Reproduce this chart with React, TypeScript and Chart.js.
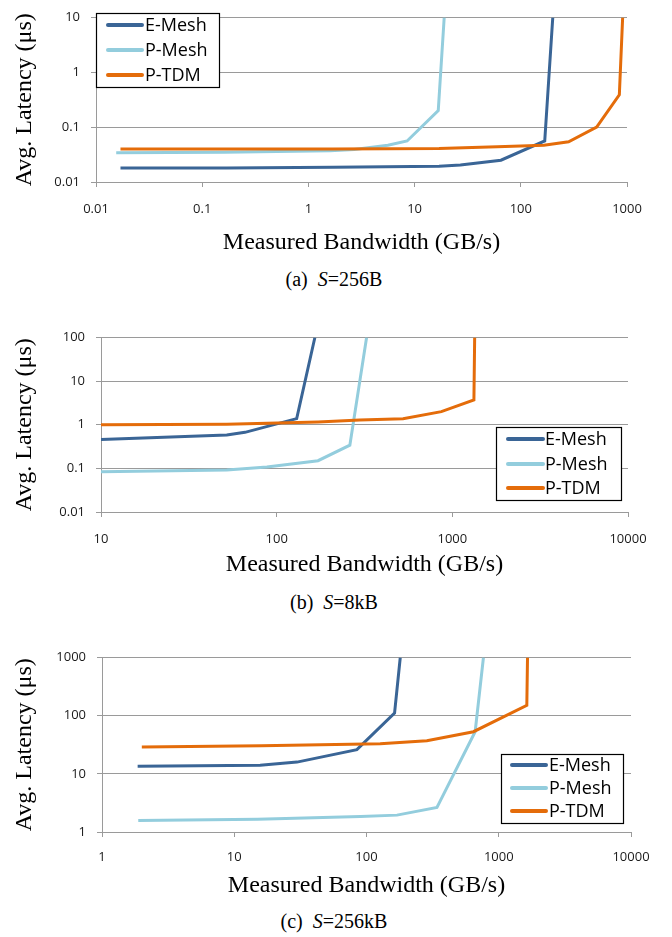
import React, { useEffect, useRef } from 'react';
import { Chart, registerables } from 'chart.js';

Chart.register(...registerables);

const seriesNames = ['E-Mesh', 'P-Mesh', 'P-TDM'];
const seriesColors = ['#3A6596', '#93CDDD', '#E46C0A'];
const xTitle = 'Measured Bandwidth (GB/s)';
const yTitle = 'Avg. Latency (μs)';

// (a) S=256B
const aXTicks = [0.01, 0.1, 1, 10, 100, 1000];
const aYTicks = [0.01, 0.1, 1, 10];
const aEMeshX = [0.017, 0.17, 1.7, 17, 27, 65, 168, 200];
const aEMeshY = [0.018, 0.018, 0.0185, 0.0194, 0.0205, 0.025, 0.056, 10];
const aPMeshX = [0.0155, 0.16, 1.6, 2.7, 5.6, 8.5, 16.7, 19];
const aPMeshY = [0.034, 0.035, 0.037, 0.039, 0.047, 0.056, 0.2, 10];
const aPTdmX = [0.017, 0.17, 1.7, 17, 60, 165, 282, 518, 847, 910];
const aPTdmY = [0.04, 0.04, 0.04, 0.041, 0.044, 0.047, 0.054, 0.1, 0.39, 10];

// (b) S=8kB
const bXTicks = [10, 100, 1000, 10000];
const bYTicks = [0.01, 0.1, 1, 10, 100];
const bEMeshX = [10, 52, 66, 130, 165];
const bEMeshY = [0.46, 0.58, 0.67, 1.38, 100];
const bPMeshX = [10, 52, 88, 172, 261, 325];
const bPMeshY = [0.084, 0.092, 0.107, 0.15, 0.34, 100];
const bPTdmX = [10, 52, 172, 297, 524, 866, 1327, 1340];
const bPTdmY = [1.0, 1.03, 1.16, 1.28, 1.38, 2.0, 3.7, 100];

// (c) S=256kB
const cXTicks = [1, 10, 100, 1000, 10000];
const cYTicks = [1, 10, 100, 1000];
const cEMeshX = [1.86, 15.7, 29.8, 84.6, 163, 180];
const cEMeshY = [13.5, 14, 15.9, 26, 111, 1000];
const cPMeshX = [1.88, 15, 90, 170, 341, 663, 766];
const cPMeshY = [1.57, 1.65, 1.85, 1.95, 2.64, 53, 1000];
const cPTdmX = [2.0, 16, 127, 286, 644, 1630, 1650];
const cPTdmY = [28.9, 30.5, 33, 37, 53, 150, 1000];

type Legend = { x: number; y: number; w: number; h: number; rows: number[]; l0: number; l1: number; tx: number };

const boxLegend = {
  id: 'boxLegend',
  afterDraw(chart: any, _args: any, opts: any) {
    const lg: Legend = opts.box;
    if (!lg) return;
    const ctx = chart.ctx;
    ctx.save();
    ctx.fillStyle = '#ffffff';
    ctx.fillRect(lg.x, lg.y, lg.w, lg.h);
    ctx.strokeStyle = '#000000';
    ctx.lineWidth = 1.2;
    ctx.strokeRect(Math.round(lg.x) + 0.5, Math.round(lg.y) + 0.5, Math.round(lg.w), Math.round(lg.h));
    chart.data.datasets.forEach((ds: any, i: number) => {
      const ry = lg.rows[i];
      ctx.strokeStyle = ds.borderColor;
      ctx.lineWidth = 4;
      ctx.lineCap = 'round';
      ctx.beginPath();
      ctx.moveTo(lg.l0, ry);
      ctx.lineTo(lg.l1, ry);
      ctx.stroke();
      ctx.fillStyle = '#000000';
      ctx.font = '18px "Open Sans"';
      ctx.textBaseline = 'middle';
      ctx.textAlign = 'left';
      ctx.fillText(ds.label, lg.tx, ry + 1);
    });
    ctx.restore();
  },
};

type PanelProps = {
  top: number;
  height: number;
  area: { left: number; right: number; top: number; bottom: number };
  xTicks: number[];
  yTicks: number[];
  xs: number[][];
  ys: number[][];
  legend: Legend;
  xTickPad: number;
  xTitlePad: number;
};

function Panel(p: PanelProps) {
  const ref = useRef<HTMLCanvasElement | null>(null);
  useEffect(() => {
    if (!ref.current) return;
    const W = 672;
    const datasets = seriesNames.map((name, i) => ({
      label: name,
      data: p.xs[i].map((x, j) => ({ x, y: p.ys[i][j] })),
      borderColor: seriesColors[i],
      backgroundColor: seriesColors[i],
      borderWidth: 3,
      pointRadius: 0,
      tension: 0,
      fill: false,
      order: 3 - i,
    }));
    const chart = new Chart(ref.current, {
      type: 'line',
      data: { datasets },
      plugins: [boxLegend],
      options: {
        animation: false,
        responsive: false,
        layout: {
          padding: { left: 0, top: p.area.top - p.top, right: W - p.area.right, bottom: 0 },
        },
        plugins: {
          legend: { display: false },
          tooltip: { enabled: false },
          boxLegend: { box: p.legend },
        } as any,
        scales: {
          x: {
            type: 'logarithmic',
            min: p.xTicks[0],
            max: p.xTicks[p.xTicks.length - 1],
            afterBuildTicks: (s: any) => {
              s.ticks = p.xTicks.map((v) => ({ value: v }));
            },
            afterFit: (s: any) => {
              s.height = p.top + p.height - p.area.bottom;
            },
            ticks: {
              autoSkip: false,
              maxRotation: 0,
              padding: p.xTickPad,
              color: '#1a1a1a',
              font: { family: '"Open Sans"', size: 13, lineHeight: 1 },
              callback: (v: any) => String(v),
            },
            grid: {
              drawOnChartArea: false,
              drawTicks: true,
              tickLength: 5,
              color: '#9a9a9a',
              lineWidth: 1,
            },
            border: { display: true, color: '#9a9a9a', width: 1 },
            title: {
              display: true,
              text: xTitle,
              color: '#000',
              font: { family: '"Liberation Serif"', size: 24, lineHeight: 1.2 },
              padding: { top: 0, bottom: p.xTitlePad },
            },
          },
          y: {
            type: 'logarithmic',
            min: p.yTicks[0],
            max: p.yTicks[p.yTicks.length - 1],
            afterBuildTicks: (s: any) => {
              s.ticks = p.yTicks.map((v) => ({ value: v }));
            },
            afterFit: (s: any) => {
              s.width = p.area.left;
            },
            ticks: {
              autoSkip: false,
              padding: 11,
              color: '#1a1a1a',
              font: { family: '"Open Sans"', size: 13, lineHeight: 1 },
              callback: (v: any) => String(v),
            },
            grid: {
              drawOnChartArea: true,
              drawTicks: true,
              tickLength: 5,
              color: '#9a9a9a',
              lineWidth: 1,
            },
            border: { display: true, color: '#9a9a9a', width: 1 },
            title: {
              display: true,
              text: yTitle,
              color: '#000',
              font: { family: '"Liberation Serif"', size: 24, lineHeight: 1.2 },
              padding: { top: 10, bottom: 0 },
            },
          },
        },
      } as any,
    });
    return () => chart.destroy();
  }, []);
  return (
    <canvas
      ref={ref}
      width={672}
      height={p.height}
      style={{ position: 'absolute', left: 0, top: p.top, width: 672, height: p.height, display: 'block' }}
    />
  );
}

function Caption({ y, label, size }: { y: number; label: string; size: string }) {
  return (
    <div
      style={{
        position: 'absolute',
        left: 0,
        width: 668,
        top: y - 12,
        height: 24,
        lineHeight: '24px',
        textAlign: 'center',
        fontFamily: '"Liberation Serif", serif',
        fontSize: 20,
        color: '#000',
        whiteSpace: 'pre',
      }}
    >
      {label + '  '}
      <i>S</i>
      {'=' + size}
    </div>
  );
}

export default function App() {
  return (
    <div style={{ position: 'absolute', left: 0, top: 0, width: 672, height: 937, background: '#fff', overflow: 'hidden' }}>
      <Panel
        top={0}
        height={262}
        area={{ left: 96, right: 627, top: 7, bottom: 182 }}
        xTicks={aXTicks}
        yTicks={aYTicks}
        xs={[aEMeshX, aPMeshX, aPTdmX]}
        ys={[aEMeshY, aPMeshY, aPTdmY]}
        legend={{ x: 96, y: 13, w: 123, h: 74, rows: [25, 50, 75], l0: 108, l1: 142, tx: 145 }}
        xTickPad={16}
        xTitlePad={5}
      />
      <Caption y={279} label="(a)" size="256B" />
      <Panel
        top={320}
        height={262}
        area={{ left: 101, right: 628, top: 332, bottom: 512 }}
        xTicks={bXTicks}
        yTicks={bYTicks}
        xs={[bEMeshX, bPMeshX, bPTdmX]}
        ys={[bEMeshY, bPMeshY, bPTdmY]}
        legend={{ x: 496, y: 107, w: 125, h: 73, rows: [119, 144, 168], l0: 508, l1: 543, tx: 545 }}
        xTickPad={16}
        xTitlePad={3}
      />
      <Caption y={602} label="(b)" size="8kB" />
      <Panel
        top={640}
        height={265}
        area={{ left: 102, right: 631, top: 654, bottom: 832 }}
        xTicks={cXTicks}
        yTicks={cYTicks}
        xs={[cEMeshX, cPMeshX, cPTdmX]}
        ys={[cEMeshY, cPMeshY, cPTdmY]}
        legend={{ x: 501, y: 114, w: 122, h: 69, rows: [125, 148, 171], l0: 512, l1: 546, tx: 549 }}
        xTickPad={14}
        xTitlePad={5}
      />
      <Caption y={921} label="(c)" size="256kB" />
    </div>
  );
}
